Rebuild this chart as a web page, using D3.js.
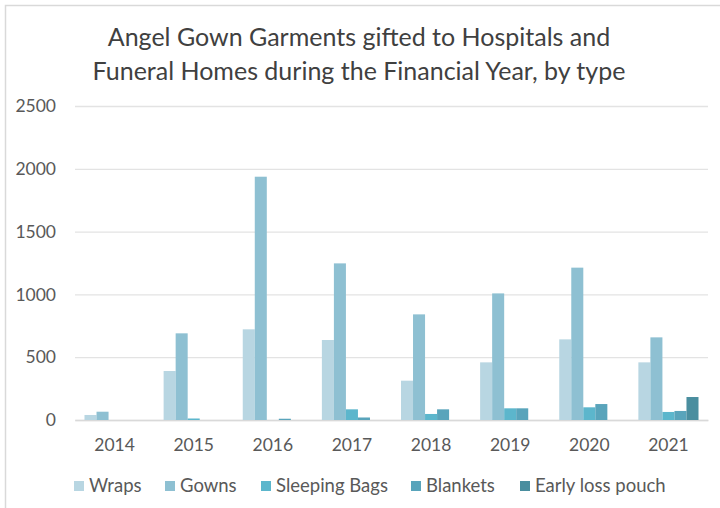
<!DOCTYPE html>
<html>
<head>
<meta charset="utf-8">
<script src="https://cdn.jsdelivr.net/npm/d3@7"></script>
<style>
  body { margin: 0; background: #fff; }
  svg { display: block; font-family: Lato, "Open Sans", sans-serif; }
</style>
</head>
<body>
<div id="chart"></div>
<script>
/// DATA

const years = ["2014", "2015", "2016", "2017", "2018", "2019", "2020", "2021"]
const types = ["Wraps", "Gowns", "Sleeping Bags", "Blankets", "Early loss pouch"]

const wraps = [40, 390, 722, 637, 313, 459, 642, 459]
const gowns = [66, 690, 1937, 1247, 841, 1008, 1213, 658]
const sleepingBags = [0, 12, 0, 85, 48, 93, 101, 64]
const blankets = [0, 0, 10, 20, 85, 93, 127, 72]
const earlyLossPouch = [0, 0, 0, 0, 0, 0, 0, 183]

const yTicks = [0, 500, 1000, 1500, 2000, 2500]

const series = [wraps, gowns, sleepingBags, blankets, earlyLossPouch]
const data = years.map((y, i) => ({
  year: y,
  values: types.map((t, j) => ({ type: t, value: series[j][i] })),
}))

const width = 720
const height = 508

const margins = { top: 106, right: 12, bottom: 88, left: 75 }

const colorScale = d3
  .scaleOrdinal()
  .domain(types)
  .range(["#b8d6e2", "#8ec0d2", "#5cb6cc", "#59a4bb", "#4a8e9f"])

/// SCALES

const xScale = d3
  .scaleBand()
  .domain(years)
  .range([margins.left, width - margins.right])
  .paddingInner(0.24)
  .paddingOuter(0.12)

const xInner = d3
  .scaleBand()
  .domain(types)
  .range([0, xScale.bandwidth()])

const yScale = d3
  .scaleLinear()
  .domain([0, 2500])
  .range([height - margins.bottom, margins.top])

const svg = d3
  .select("#chart")
  .append("svg")
  .attr("width", width)
  .attr("height", height)
  .attr("viewBox", [0, 0, width, height])

// frame
svg.append("path")
  .attr("d", `M5.5,${height} V5.5 H${width}`)
  .attr("fill", "none")
  .attr("stroke", "#d9d9d9")
  .attr("stroke-width", 1.5)

// title
const title = svg.append("text")
  .attr("text-anchor", "middle")
  .attr("fill", "#404040")
  .style("font-size", "25px")
title.append("tspan").attr("x", 359).attr("y", 46).text("Angel Gown Garments gifted to Hospitals and")
title.append("tspan").attr("x", 359).attr("y", 80).text("Funeral Homes during the Financial Year, by type")

/// AXES

const yAxis = svg.append("g")
  .attr("transform", `translate(${margins.left},0)`)
  .call(
    d3.axisLeft(yScale)
      .tickValues(yTicks)
      .tickFormat(d3.format("d"))
      .tickSizeInner(-(width - margins.left - margins.right))
      .tickSizeOuter(0)
      .tickPadding(19)
  )
yAxis.select(".domain").remove()
yAxis.selectAll("line").attr("stroke", "#e3e3e3").attr("stroke-width", 1.3)
yAxis.selectAll("text")
  .attr("fill", "#595959")
  .style("font-size", "17.5px")
  .style("font-family", "Lato, 'Open Sans', sans-serif")

const xAxis = svg.append("g")
  .attr("transform", `translate(0,${height - margins.bottom})`)
  .call(d3.axisBottom(xScale).tickSize(0).tickPadding(19))
xAxis.select(".domain").attr("stroke", "#d9d9d9").attr("stroke-width", 1.3)
xAxis.selectAll("text")
  .attr("fill", "#595959")
  .style("font-size", "17.5px")
  .style("font-family", "Lato, 'Open Sans', sans-serif")

/// BARS

svg.append("g")
  .selectAll("g")
  .data(data)
  .join("g")
  .attr("transform", (d) => `translate(${xScale(d.year)},0)`)
  .selectAll("rect")
  .data((d) => d.values)
  .join("rect")
  .attr("x", (d) => xInner(d.type))
  .attr("width", xInner.bandwidth())
  .attr("y", (d) => yScale(d.value))
  .attr("height", (d) => yScale(0) - yScale(d.value))
  .attr("fill", (d) => colorScale(d.type))

/// LEGEND

const legendX = [74, 165, 261, 411, 520]
const legend = svg.append("g")
  .selectAll("g")
  .data(types)
  .join("g")
  .attr("transform", (d, i) => `translate(${legendX[i]},486)`)

legend.append("rect")
  .attr("x", 0)
  .attr("y", -5)
  .attr("width", 10)
  .attr("height", 10)
  .attr("fill", (d) => colorScale(d))

legend.append("text")
  .attr("x", 15)
  .attr("y", 0)
  .attr("dy", "0.35em")
  .attr("fill", "#595959")
  .style("font-size", "18.5px")
  .text((d) => d)
</script>
</body>
</html>
